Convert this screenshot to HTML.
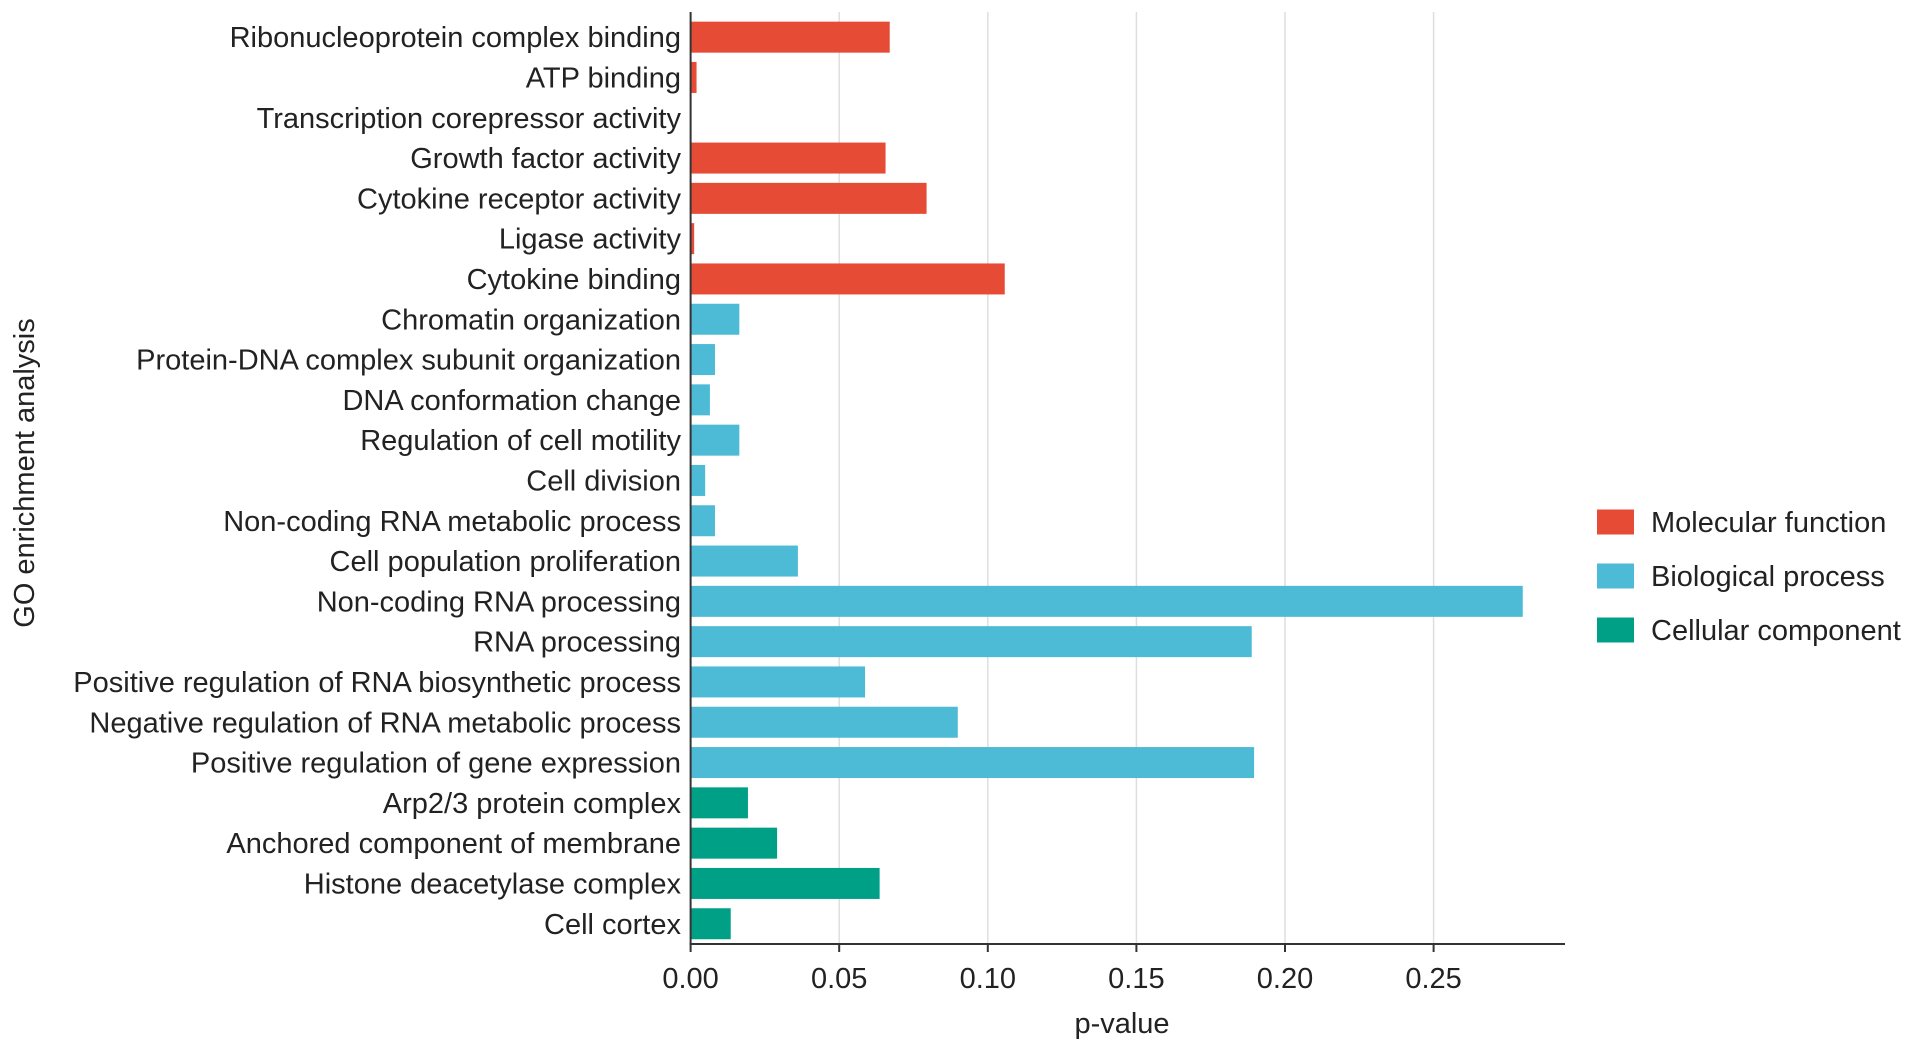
<!DOCTYPE html>
<html><head><meta charset="utf-8"><style>
html,body{margin:0;padding:0;background:#fff;}
svg text{font-family:"Liberation Sans",Arial,sans-serif;fill:#222;}
</style></head><body>
<svg id="chart" width="1913" height="1052" viewBox="0 0 1913 1052" xmlns="http://www.w3.org/2000/svg"></svg>
<script>
const categories=["Ribonucleoprotein complex binding","ATP binding","Transcription corepressor activity","Growth factor activity","Cytokine receptor activity","Ligase activity","Cytokine binding","Chromatin organization","Protein-DNA complex subunit organization","DNA conformation change","Regulation of cell motility","Cell division","Non-coding RNA metabolic process","Cell population proliferation","Non-coding RNA processing","RNA processing","Positive regulation of RNA biosynthetic process","Negative regulation of RNA metabolic process","Positive regulation of gene expression","Arp2/3 protein complex","Anchored component of membrane","Histone deacetylase complex","Cell cortex"];
const pValues=[0.067,0.002,0,0.0656,0.0794,0.0012,0.1057,0.0164,0.0082,0.0065,0.0164,0.0049,0.0082,0.0361,0.280,0.1888,0.0587,0.0899,0.1896,0.0193,0.0291,0.0636,0.0135];
const groups=["MF","MF","MF","MF","MF","MF","MF","BP","BP","BP","BP","BP","BP","BP","BP","BP","BP","BP","BP","CC","CC","CC","CC"];
const tickValues=[0,0.05,0.10,0.15,0.20,0.25];
const tickLabels=["0.00","0.05","0.10","0.15","0.20","0.25"];
const legendKeys=["MF","BP","CC"];
const legendLabels=["Molecular function","Biological process","Cellular component"];
const colors={MF:"#e64b35",BP:"#4dbbd5",CC:"#00a087"};

const NS="http://www.w3.org/2000/svg";
const svg=document.getElementById('chart');
const x0=690.6,pxPerUnit=2972,yTop=17,band=40.3,barH=31,axisY=944,axisEnd=1565,FS=29;
const xs=v=>x0+v*pxPerUnit;
const yc=i=>yTop+band*i+band/2;
function mk(tag,attrs,parent){const e=document.createElementNS(NS,tag);for(const k in attrs)e.setAttribute(k,attrs[k]);(parent||svg).appendChild(e);return e;}

const grid=mk('g',{});


tickValues.forEach((v,i)=>{if(i===0)return;const l=mk('line',{x1:xs(v),x2:xs(v),y1:12,y2:axisY,stroke:'#dedede','stroke-width':1.5},grid);

});

const bars=mk('g',{});


categories.forEach((c,i)=>{
 const r=mk('rect',{x:x0,y:yc(i)-barH/2,width:Math.max(0,xs(pValues[i])-x0),height:barH,fill:colors[groups[i]]},bars);
 
 
 const t=mk('text',{x:681,y:yc(i)+10,'text-anchor':'end','font-size':FS});
 t.textContent=c;
 
 
});

const ya=mk('line',{x1:x0,x2:x0,y1:12,y2:axisY,stroke:'#333','stroke-width':2});


const xa=mk('line',{x1:x0-1,x2:axisEnd,y1:axisY,y2:axisY,stroke:'#333','stroke-width':2});


tickValues.forEach((v,i)=>{
 const tk=mk('line',{x1:xs(v),x2:xs(v),y1:axisY,y2:axisY+8,stroke:'#333','stroke-width':2});
 
 
 const t=mk('text',{x:xs(v),y:988,'text-anchor':'middle','font-size':FS});
 t.textContent=tickLabels[i];
 
 
});
const xt=mk('text',{x:1122,y:1033,'text-anchor':'middle','font-size':FS});
xt.textContent='p-value';


const yt=mk('text',{x:0,y:0,'text-anchor':'middle','font-size':FS,transform:'translate(34,473) rotate(-90)'});
yt.textContent='GO enrichment analysis';



const lg=mk('g',{});


legendKeys.forEach((k,i)=>{
 const cy=522+i*54;
 const r=mk('rect',{x:1597,y:cy-12.5,width:37,height:25,fill:colors[k]},lg);
 
 
 const t=mk('text',{x:1651,y:cy+10,'font-size':FS},lg);
 t.textContent=legendLabels[i];
 
 
});
</script>
</body></html>
